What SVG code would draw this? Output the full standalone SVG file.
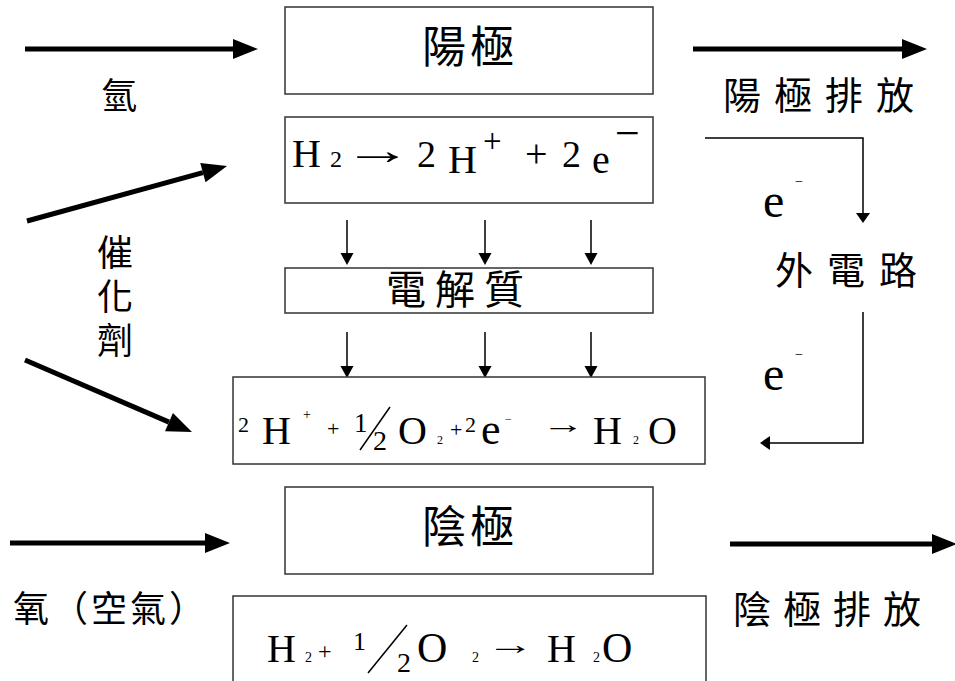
<svg xmlns="http://www.w3.org/2000/svg" width="955" height="681" viewBox="0 0 955 681">
<defs>
<style>
.box{fill:#fff;stroke:#333;stroke-width:1.5}
.cjk{font-family:"Noto Sans CJK TC","Noto Sans CJK SC",sans-serif;fill:#000}
.f{font-family:"Liberation Serif","Times New Roman",serif;fill:#000}
.thick{stroke:#000;stroke-width:5;fill:none}
.thin{stroke:#000;stroke-width:1.5;fill:none}
.slash{stroke:#000;stroke-width:1.5}
</style>
<marker id="big" markerUnits="userSpaceOnUse" markerWidth="26" markerHeight="22" refX="0" refY="10" orient="auto" viewBox="0 0 26 22" overflow="visible">
<path d="M0,0 L25,10 L0,20 z" fill="#000"/>
</marker>
<marker id="small" markerUnits="userSpaceOnUse" markerWidth="13" markerHeight="14" refX="0" refY="6.5" orient="auto" viewBox="0 0 13 14" overflow="visible">
<path d="M0,0 L12,6.5 L0,13 z" fill="#000"/>
</marker>
<marker id="mid" markerUnits="userSpaceOnUse" markerWidth="11" markerHeight="15" refX="0" refY="7" orient="auto" viewBox="0 0 11 15" overflow="visible">
<path d="M0,0 L10,7 L0,14 z" fill="#000"/>
</marker>
</defs>
<rect width="955" height="681" fill="#fff"/>

<g id="connectors">
<line class="thick" x1="25" y1="49" x2="233" y2="49" marker-end="url(#big)"/>
<line class="thick" x1="693" y1="49" x2="902" y2="49" marker-end="url(#big)"/>
<line class="thick" x1="10" y1="543" x2="205" y2="543" marker-end="url(#big)"/>
<line class="thick" x1="730" y1="544" x2="932" y2="544" marker-end="url(#big)"/>
<line class="thick" x1="27" y1="221" x2="202.9" y2="172.6" marker-end="url(#big)"/>
<line class="thick" x1="25" y1="360" x2="169" y2="422.1" marker-end="url(#big)"/>
<line class="thin" x1="347" y1="220" x2="347" y2="253" marker-end="url(#small)"/>
<line class="thin" x1="485" y1="220" x2="485" y2="253" marker-end="url(#small)"/>
<line class="thin" x1="591" y1="220" x2="591" y2="253" marker-end="url(#small)"/>
<line class="thin" x1="347" y1="332" x2="347" y2="366" marker-end="url(#small)"/>
<line class="thin" x1="485" y1="332" x2="485" y2="366" marker-end="url(#small)"/>
<line class="thin" x1="591" y1="332" x2="591" y2="366" marker-end="url(#small)"/>
<path class="thin" d="M705,138 H863 V213" marker-end="url(#mid)"/>
<path class="thin" d="M863,312 V443 H770" marker-end="url(#mid)"/>
</g>

<g id="anode">
<rect class="box" x="285" y="7" width="368" height="87"/>
<text class="cjk" x="470" y="63" font-size="44" text-anchor="middle" letter-spacing="4">陽極</text>
</g>

<g id="anode-reaction">
<rect class="box" x="285" y="117" width="368" height="86"/>
<text class="f" font-size="40">
<tspan x="292" y="167">H</tspan><tspan x="330" y="167" font-size="24">2</tspan><tspan x="417" y="167" font-size="38">2</tspan><tspan x="448" y="173">H</tspan><tspan x="483" y="152" font-size="33">+</tspan><tspan x="525" y="167">+</tspan><tspan x="562" y="167" font-size="38">2</tspan><tspan x="592" y="173">e</tspan><tspan x="615" y="148" font-size="44">−</tspan>
</text>
<text class="f" x="343" y="164" font-size="40" textLength="69" lengthAdjust="spacingAndGlyphs">→</text>
</g>

<g id="electrolyte">
<rect class="box" x="285" y="268" width="368" height="45"/>
<text class="cjk" x="386" y="304" font-size="40" letter-spacing="9">電解質</text>
</g>

<g id="cathode-reaction">
<rect class="box" x="233" y="377" width="472" height="87"/>
<text class="f" font-size="40">
<tspan x="238" y="432" font-size="22">2</tspan><tspan x="262" y="444">H</tspan><tspan x="303" y="418.5" font-size="14">+</tspan><tspan x="327" y="436" font-size="22">+</tspan><tspan x="354" y="432" font-size="27">1</tspan><tspan x="373" y="450" font-size="28">2</tspan><tspan x="398" y="444">O</tspan><tspan x="437" y="444" font-size="12">2</tspan><tspan x="450" y="437" font-size="22">+</tspan><tspan x="465" y="432" font-size="22">2</tspan><tspan x="481" y="444" font-size="44">e</tspan><tspan x="505" y="423" font-size="12">−</tspan><tspan x="593" y="444">H</tspan><tspan x="633" y="444" font-size="12">2</tspan><tspan x="648" y="444">O</tspan>
</text>
<text class="f" x="542" y="433" font-size="26" textLength="43" lengthAdjust="spacingAndGlyphs">→</text>
<line class="slash" x1="360" y1="450" x2="390" y2="407"/>
</g>

<g id="cathode">
<rect class="box" x="285" y="487" width="368" height="87"/>
<text class="cjk" x="470" y="543" font-size="44" text-anchor="middle" letter-spacing="4">陰極</text>
</g>

<g id="overall-reaction">
<rect class="box" x="233" y="596" width="473" height="100"/>
<text class="f" font-size="40">
<tspan x="267" y="662">H</tspan><tspan x="305" y="662" font-size="14">2</tspan><tspan x="318" y="659" font-size="24">+</tspan><tspan x="353" y="650" font-size="26">1</tspan><tspan x="397" y="672" font-size="28">2</tspan><tspan x="417" y="662" font-size="42">O</tspan><tspan x="472" y="662" font-size="14">2</tspan><tspan x="547" y="662">H</tspan><tspan x="593" y="662" font-size="14">2</tspan><tspan x="602" y="662" font-size="42">O</tspan>
</text>
<text class="f" x="486" y="654" font-size="28" textLength="48" lengthAdjust="spacingAndGlyphs">→</text>
<line class="slash" x1="368" y1="673" x2="407" y2="625"/>
</g>

<g id="labels">
<text class="cjk" x="101" y="109" font-size="36">氫</text>
<text class="cjk" x="115" y="234" font-size="36" writing-mode="tb" letter-spacing="8">催化劑</text>
<text class="cjk" x="723" y="109" font-size="38" letter-spacing="13">陽極排放</text>
<text class="cjk" x="775" y="284" font-size="38" letter-spacing="14">外電路</text>
<text class="cjk" x="13" y="622" font-size="36" letter-spacing="3">氧（空氣）</text>
<text class="cjk" x="733" y="623" font-size="38" letter-spacing="12">陰極排放</text>
<text class="f" x="763" y="217" font-size="48">e</text>
<text class="f" x="795" y="186" font-size="14">−</text>
<text class="f" x="763" y="390" font-size="48">e</text>
<text class="f" x="795" y="359" font-size="14">−</text>
</g>
</svg>
